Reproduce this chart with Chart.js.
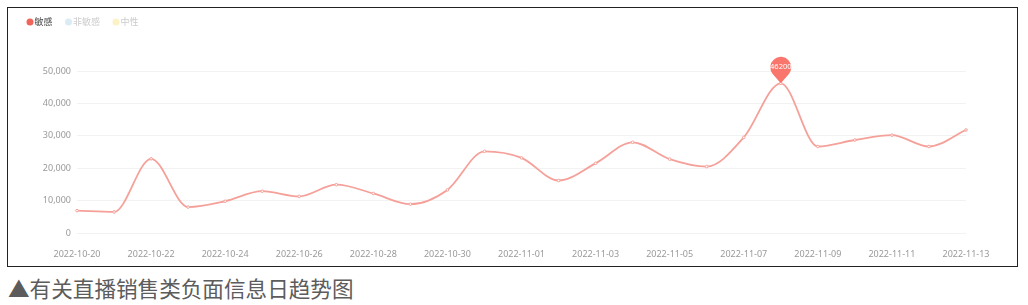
<!DOCTYPE html>
<html>
<head>
<meta charset="utf-8">
<script src="https://cdn.jsdelivr.net/npm/chart.js@4"></script>
<style>
  html, body { margin: 0; padding: 0; background: #ffffff; }
  body { width: 1028px; height: 305px; position: relative; overflow: hidden; }
  #frame {
    position: absolute;
    left: 7px;
    top: 7px;
    width: 1009px;
    height: 258px;
    border: 1px solid #222222;
  }
  #trendChart { display: block; }
  #caption {
    position: absolute;
    left: 8px;
    top: 277px;
    font-family: "Noto Sans CJK SC", sans-serif;
    font-size: 21.6px;
    line-height: 21px;
    color: #5c5c5c;
    white-space: nowrap;
  }
</style>
</head>
<body>
<div id="frame"><canvas id="trendChart" width="1009" height="258"></canvas></div>
<div id="caption">▲有关直播销售类负面信息日趋势图</div>
<script>
const dates = [
  "2022-10-20", "2022-10-21", "2022-10-22", "2022-10-23", "2022-10-24",
  "2022-10-25", "2022-10-26", "2022-10-27", "2022-10-28", "2022-10-29",
  "2022-10-30", "2022-10-31", "2022-11-01", "2022-11-02", "2022-11-03",
  "2022-11-04", "2022-11-05", "2022-11-06", "2022-11-07", "2022-11-08",
  "2022-11-09", "2022-11-10", "2022-11-11", "2022-11-12", "2022-11-13",
];

const sensitive = [
  6900, 6500, 22900, 8000, 9800,
  12900, 11300, 14900, 12200, 8900,
  13300, 25200, 23200, 16200, 21500,
  28000, 22800, 20500, 29500, 46200,
  26700, 28700, 30200, 26700, 31800,
];

const yTicks = [0, 10000, 20000, 30000, 40000, 50000];

const legendNames = ["敏感", "非敏感", "中性"];
const legendDots = ["#f0645a", "#d9ecf4", "#fbf2c6"];
const legendText = ["#444444", "#cccccc", "#cccccc"];

const lineColor = "#f5a099";
const pinColor = "#f8766c";
const tickColor = "#999999";

const numberFormatter = new Intl.NumberFormat("en-US");

const legendPlugin = {
  id: "topLegend",
  afterDraw(chart) {
    const ctx = chart.ctx;
    ctx.save();
    ctx.font = '9px "Noto Sans CJK SC", sans-serif';
    ctx.textBaseline = "middle";
    let x = 22;
    const y = 14;
    legendNames.forEach((name, i) => {
      ctx.beginPath();
      ctx.fillStyle = legendDots[i];
      ctx.arc(x, y, 3.5, 0, Math.PI * 2);
      ctx.fill();
      ctx.fillStyle = legendText[i];
      ctx.textAlign = "left";
      ctx.fillText(name, x + 4.5, y);
      x += 4.5 + ctx.measureText(name).width + 16;
    });
    ctx.restore();
  },
};

// balloon marker over the highest point, like a max markPoint
const peakPinPlugin = {
  id: "peakPin",
  afterDatasetsDraw(chart) {
    const data = chart.data.datasets[0].data;
    let maxIdx = 0;
    data.forEach((v, i) => {
      if (v > data[maxIdx]) maxIdx = i;
    });
    const xPos = chart.scales.x.getPixelForValue(maxIdx);
    const yPos = chart.scales.y.getPixelForValue(data[maxIdx]);
    const r = 10.5;
    const d = 16;
    const cy = yPos - d;
    const a = Math.acos(r / d);
    const ctx = chart.ctx;
    ctx.save();
    ctx.beginPath();
    ctx.moveTo(xPos, yPos);
    ctx.arc(xPos, cy, r, Math.PI / 2 + a, Math.PI / 2 - a, false);
    ctx.closePath();
    ctx.fillStyle = pinColor;
    ctx.fill();
    ctx.fillStyle = "#ffffff";
    ctx.font = '7.5px "Noto Sans", sans-serif';
    ctx.textAlign = "center";
    ctx.textBaseline = "middle";
    ctx.fillText(String(data[maxIdx]), xPos, cy);
    ctx.restore();
  },
};

new Chart(document.getElementById("trendChart"), {
  type: "line",
  data: {
    labels: dates,
    datasets: [
      {
        label: legendNames[0],
        data: sensitive,
        borderColor: lineColor,
        borderWidth: 1.8,
        cubicInterpolationMode: "monotone",
        pointRadius: 1.3,
        pointBackgroundColor: "#ffffff",
        pointBorderColor: lineColor,
        pointBorderWidth: 1,
        fill: false,
      },
    ],
  },
  options: {
    responsive: false,
    animation: false,
    layout: { padding: { left: 0, right: 51, top: 63, bottom: 0 } },
    plugins: {
      legend: { display: false },
      tooltip: { enabled: false },
    },
    scales: {
      x: {
        offset: false,
        grid: { display: false },
        border: { display: false },
        afterFit: (scale) => { scale.height = 33; },
        ticks: {
          autoSkip: false,
          maxRotation: 0,
          color: tickColor,
          padding: 8,
          font: { family: "Noto Sans", size: 9 },
          callback: (value, index) => (index % 2 === 0 ? dates[index] : ""),
        },
      },
      y: {
        min: yTicks[0],
        max: yTicks[yTicks.length - 1],
        afterFit: (scale) => { scale.width = 69; },
        afterBuildTicks: (scale) => {
          scale.ticks = yTicks.map((v) => ({ value: v }));
        },
        grid: { color: "#f2f2f2", lineWidth: 1, drawTicks: false },
        border: { display: false },
        ticks: {
          color: tickColor,
          padding: 6,
          font: { family: "Noto Sans", size: 9 },
          callback: (value) => numberFormatter.format(value),
        },
      },
    },
  },
  plugins: [legendPlugin, peakPinPlugin],
});
</script>
</body>
</html>
